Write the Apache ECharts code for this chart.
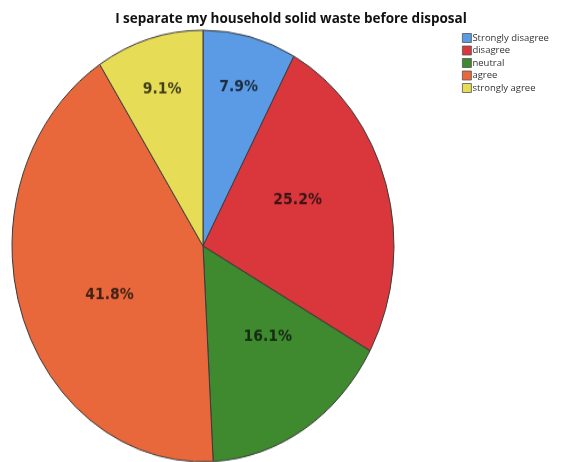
<!DOCTYPE html>
<html><head><meta charset="utf-8">
<script src="https://cdn.jsdelivr.net/npm/echarts@6/dist/echarts.min.js"></script>
<style>
html,body{margin:0;padding:0;background:#fff;}
#wrap{position:relative;width:567px;height:462px;overflow:hidden;}
#pie{position:absolute;left:0;top:0;width:567px;height:462px;transform-origin:203px 246px;transform:scaleY(1.13);}
#overlay{position:absolute;left:0;top:0;width:567px;height:462px;}
</style></head>
<body><div id="wrap"><div id="pie"></div><div id="overlay"></div></div>
<script>
const titleText = "I separate my household solid waste before disposal";
const categories = ["Strongly disagree","disagree","neutral","agree","strongly agree"];
const values = [7.9, 25.2, 16.1, 41.8, 9.1];
const colors = ["#5b9be6","#d9373c","#3f8a2f","#e9683b","#e6dc55"];
const smallSlices = [true, false, false, false, true];

const pieChart = echarts.init(document.getElementById('pie'));
const dataMain = categories.map((c,i)=>({name:c,value:values[i],itemStyle:{color:colors[i]}}));
function labelData(showFlag){
  return categories.map((c,i)=>({name:c,value:values[i],label:{show:smallSlices[i]===showFlag}}));
}
const labelStyle = {position:'inside',formatter:p=>p.value.toFixed(1)+'%',color:'rgba(10,10,10,0.75)',fontFamily:'DejaVu Sans',fontWeight:'bold',fontSize:14};
pieChart.setOption({
  animation:false,
  series:[
    {type:'pie',center:[203,246],radius:191,startAngle:90,clockwise:true,silent:true,
     label:{show:false},labelLine:{show:false},
     itemStyle:{borderColor:'#3a3a3a',borderWidth:1},data:dataMain},
    {type:'pie',center:[203,246],radius:[93,191],startAngle:90,clockwise:true,silent:true,
     itemStyle:{color:'transparent'},labelLine:{show:false},label:labelStyle,data:labelData(true)},
    {type:'pie',center:[203,246],radius:[9,191],startAngle:97,clockwise:true,silent:true,
     itemStyle:{color:'transparent'},labelLine:{show:false},label:labelStyle,data:labelData(false)}
  ]
});

const overlayChart = echarts.init(document.getElementById('overlay'));
overlayChart.setOption({
  animation:false,
  title:{text:titleText,left:286,top:7,textAlign:'center',
    textStyle:{fontFamily:'Open Sans',fontWeight:'bold',fontSize:13.5,color:'#111'}},
  legend:{orient:'vertical',left:457,top:28,itemWidth:9,itemHeight:9,itemGap:2.5,
    icon:'rect',
    textStyle:{fontFamily:'Open Sans',fontSize:9.5,color:'#333',padding:[0,0,0,-4]},
    data:categories.map((c,i)=>({name:c,itemStyle:{color:colors[i],borderColor:'#555',borderWidth:0.8}}))},
  series:[{type:'pie',radius:0,silent:true,label:{show:false},
    data:categories.map((c,i)=>({name:c,value:values[i],itemStyle:{color:colors[i]}}))}]
});
</script></body></html>
